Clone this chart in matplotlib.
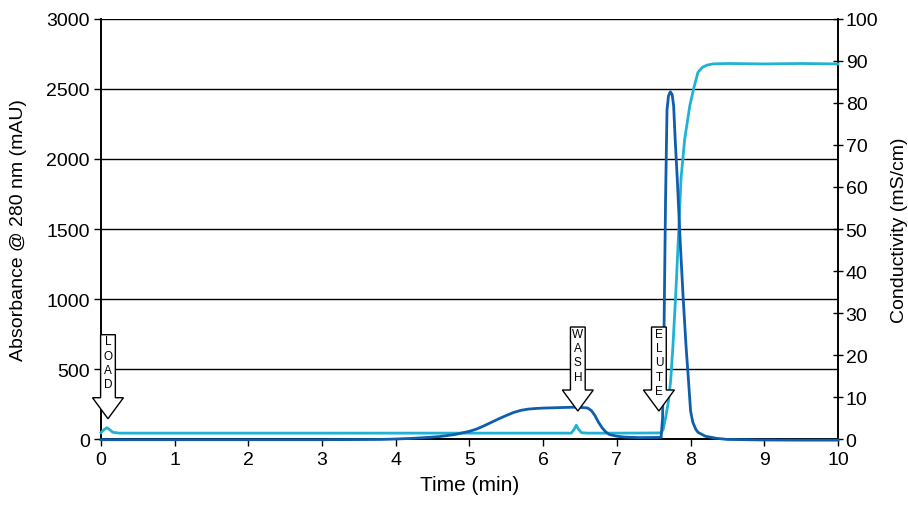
import matplotlib.pyplot as plt
from matplotlib.patches import Polygon

plt.rcParams['font.family'] = ['Liberation Sans', 'DejaVu Sans']

# absorbance trace (mAU)
abs_time = [0, 1, 2, 3, 3.8, 4.0, 4.2, 4.4, 4.6, 4.8, 5.0, 5.1, 5.2, 5.3, 5.4,
            5.5, 5.6, 5.7, 5.8, 5.9, 6.0, 6.2, 6.4, 6.5, 6.6, 6.65, 6.7, 6.75,
            6.8, 6.85, 6.9, 7.0, 7.1, 7.3, 7.5, 7.6, 7.62, 7.64, 7.66, 7.68,
            7.70, 7.725, 7.75, 7.77, 7.79, 7.82, 7.86, 7.90, 7.94, 7.97, 8.0,
            8.03, 8.07, 8.1, 8.2, 8.35, 8.5, 9.0, 9.5, 10]
abs_mau = [-5, -5, -5, -5, -3, 0, 4, 10, 18, 32, 55, 72, 95, 120, 145,
           168, 190, 205, 214, 218, 221, 224, 227, 226, 222, 205, 170, 120,
           80, 50, 32, 20, 14, 10, 11, 12, 150, 800, 1700, 2350,
           2450, 2480, 2460, 2380, 2150, 1850, 1400, 1000, 650, 430, 200,
           120, 70, 48, 20, 5, -3, -7, -8, -8]

# conductivity trace (mS/cm)
cond_time = [0, 0.04, 0.08, 0.12, 0.16, 0.25, 1, 2, 3, 4, 5, 6, 6.38, 6.42,
             6.45, 6.48, 6.52, 6.6, 7.0, 7.6, 7.63, 7.66, 7.70, 7.73, 7.76,
             7.80, 7.84, 7.87, 7.92, 7.99, 8.05, 8.10, 8.16, 8.22, 8.3, 8.5,
             9.0, 9.5, 10]
cond_ms = [1.5, 2.2, 2.7, 2.2, 1.6, 1.4, 1.4, 1.4, 1.4, 1.4, 1.4, 1.4, 1.4, 2.3,
           3.3, 2.3, 1.5, 1.4, 1.4, 1.45, 2.4, 5, 9, 14, 22,
           35, 50, 62, 71.4, 79.4, 84, 87.3, 88.5, 89, 89.3, 89.4,
           89.3, 89.4, 89.3]

# run events marked with arrows
events = ['LOAD', 'WASH', 'ELUTE']
event_times = [0.095, 6.47, 7.57]
event_tops = [745, 800, 800]

dark = '#0f5ead'
light = '#1fb2d6'

fig = plt.figure(figsize=(9.08, 5.06), dpi=100)
ax = fig.add_axes([0.1112, 0.1304, 0.8117, 0.8301])
ax2 = ax.twinx()

ax.set_xlim(0, 10)
ax.set_ylim(0, 3000)
ax2.set_ylim(0, 100)

for v in range(500, 3001, 500):
    ax.axhline(v, color='black', lw=1, zorder=1)

ax2.plot(cond_time, cond_ms, color=light, lw=2, zorder=3, clip_on=False)
ax2.plot(abs_time, [v / 30 for v in abs_mau], color=dark, lw=2, zorder=4,
         clip_on=False)

# arrows
for name, t, top in zip(events, event_times, event_tops):
    base = top - 450
    tip = base - 150
    sw, hw = 0.1, 0.21
    pts = [(t - sw, top), (t + sw, top), (t + sw, base), (t + hw, base),
           (t, tip), (t - hw, base), (t - sw, base)]
    ax2.add_patch(Polygon([(px, py / 30) for px, py in pts], closed=True,
                          facecolor='white', edgecolor='black', lw=1,
                          zorder=6, clip_on=False))
    for i, ch in enumerate(name):
        ax2.text(t, (top - 48 - i * 102) / 30, ch, ha='center', va='center',
                 fontsize=8.5, zorder=7)

ax.set_xticks(range(0, 11))
ax.set_yticks(range(0, 3001, 500))
ax2.set_yticks(range(0, 101, 10))

for a in (ax, ax2):
    a.spines['top'].set_visible(False)
    for s in a.spines.values():
        s.set_linewidth(1.2)
ax.tick_params(axis='both', labelsize=14, length=5, width=1, direction='out')
ax.tick_params(axis='y', pad=3)
ax2.tick_params(axis='y', labelsize=14, length=7, width=1, direction='inout', pad=2)

ax.set_xlabel('Time (min)', fontsize=15, labelpad=5)
ax.set_ylabel('Absorbance @ 280 nm (mAU)', fontsize=14, labelpad=14)
ax2.set_ylabel('Conductivity (mS/cm)', fontsize=14, labelpad=9)

fig.savefig('out.png', dpi=100)
